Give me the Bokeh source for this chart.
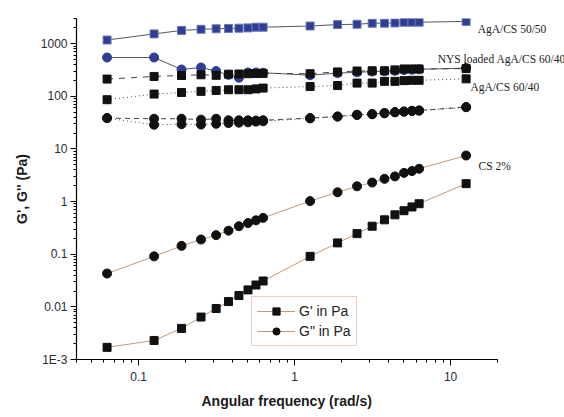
from bokeh.plotting import figure
from bokeh.models import FixedTicker, Label, Legend, LegendItem, Range1d, Title
from bokeh.embed import file_html
from bokeh.resources import INLINE

# ---------------- data ----------------
freq = [0.0628, 0.1257, 0.1885, 0.2513, 0.3142, 0.3770, 0.4398, 0.5027, 0.5655, 0.6283,
        1.257, 1.885, 2.513, 3.142, 3.770, 4.398, 5.027, 5.655, 6.283, 12.57]

# AgA/CS 50/50
g1_5050 = [1170, 1530, 1780, 1870, 1910, 1940, 1960, 1990, 2050, 2050,
           2160, 2300, 2330, 2440, 2440, 2470, 2550, 2550, 2550, 2640]
g2_5050 = [545, 545, 323, 352, 301, 255, 225, 283, 283, 280,
           251, 275, 285, 295, 300, 305, 315, 320, 325, 343]

# NYS loaded AgA/CS 60/40
g1_nys = [212, 238, 248, 256, 250, 263, 265, 268, 270, 272,
          268, 290, 302, 305, 305, 317, 330, 330, 330, 335]
g2_nys = [38.5, 37.4, 37.4, 36.0, 37.4, 35.0, 35.0, 35.0, 34.5, 35.0,
          38.5, 41.4, 44.6, 46.0, 48.0, 50.0, 51.4, 53.0, 53.7, 62.4]

# AgA/CS 60/40
g1_6040 = [86, 110, 118, 124, 129, 133, 133, 133, 138, 143,
           153, 160, 178, 178, 192, 192, 198, 201, 201, 214]
g2_6040 = [38.5, 28.8, 29.5, 29.0, 30.0, 31.0, 31.5, 32.0, 33.0, 33.5,
           38.0, 41.0, 44.0, 45.5, 47.5, 49.5, 51.0, 52.5, 53.5, 62.0]

# CS 2%
g1_cs = [0.0017, 0.0023, 0.0039, 0.0064, 0.0093, 0.0126, 0.0164, 0.021, 0.026, 0.031,
         0.091, 0.164, 0.246, 0.34, 0.45, 0.56, 0.67, 0.79, 0.91, 2.19]
g2_cs = [0.043, 0.091, 0.144, 0.19, 0.23, 0.28, 0.34, 0.39, 0.44, 0.49,
         1.02, 1.5, 1.95, 2.3, 2.7, 3.0, 3.5, 3.8, 4.2, 7.5]

y_ticks = [0.001, 0.01, 0.1, 1, 10, 100, 1000]
y_tick_labels = ["1E-3", "0.01", "0.1", "1", "10", "100", "1000"]
x_ticks = [0.1, 1, 10]
x_tick_labels = ["0.1", "1", "10"]

X_AXIS_START, X_AXIS_END = 0.04, 20

# ---------------- figure ----------------
# frame extends to the right edge so the series labels can sit beyond the axis end
p = figure(width=564, height=417, x_axis_type="log", y_axis_type="log",
           x_range=Range1d(X_AXIS_START, 53.7), y_range=Range1d(0.001, 3000),
           output_backend="svg", toolbar_location=None,
           min_border_left=76, min_border_right=0, min_border_top=18, min_border_bottom=58)
p.outline_line_color = None
p.xgrid.visible = False
p.ygrid.visible = False
p.background_fill_color = "white"
p.border_fill_color = "white"

BLUE = "#2f3e94"
TAN = "#c39a78"
DARK = "#111111"

# AgA/CS 50/50
p.line(freq, g1_5050, line_color="#555566", line_width=1)
p.scatter(freq, g1_5050, marker="square", size=8, fill_color=BLUE, line_color="#6a78b8")
p.line(freq, g2_5050, line_color="#555566", line_width=1)
blue_circ_colors = [BLUE] * (len(freq) - 1) + [DARK]
p.scatter(freq, g2_5050, marker="circle", size=9, fill_color=blue_circ_colors, line_color=blue_circ_colors)

# NYS loaded AgA/CS 60/40
p.line(freq, g1_nys, line_color="#444444", line_width=1, line_dash="6 6")
p.scatter(freq, g1_nys, marker="square", size=8, fill_color=DARK, line_color=DARK)
p.line(freq, g2_nys, line_color="#444444", line_width=1, line_dash="5 4")
p.scatter(freq, g2_nys, marker="circle", size=9, fill_color=DARK, line_color=DARK)

# AgA/CS 60/40
p.line(freq, g1_6040, line_color="#444444", line_width=1, line_dash="1 3")
p.scatter(freq, g1_6040, marker="square", size=8, fill_color=DARK, line_color=DARK)
p.line(freq, g2_6040, line_color="#444444", line_width=1, line_dash="1 3")
p.scatter(freq, g2_6040, marker="circle", size=9, fill_color=DARK, line_color=DARK)

# CS 2%
l_cs1 = p.line(freq, g1_cs, line_color=TAN, line_width=1)
s_cs1 = p.scatter(freq, g1_cs, marker="square", size=8, fill_color=DARK, line_color=DARK)
l_cs2 = p.line(freq, g2_cs, line_color=TAN, line_width=1)
s_cs2 = p.scatter(freq, g2_cs, marker="circle", size=9, fill_color=DARK, line_color=DARK)

# ---------------- axes ----------------
x_minor = [a * 10 ** e for e in (-2, -1, 0, 1) for a in range(2, 10) if a * 10 ** e <= X_AXIS_END]
y_minor = [a * 10 ** e for e in (-3, -2, -1, 0, 1, 2, 3) for a in range(2, 10)]

xa = p.xaxis[0]
xa.ticker = FixedTicker(ticks=x_ticks, minor_ticks=x_minor)
xa.major_label_overrides = dict(zip(x_ticks, x_tick_labels))
xa.bounds = (X_AXIS_START, X_AXIS_END)
ya = p.yaxis[0]
ya.ticker = FixedTicker(ticks=y_ticks, minor_ticks=y_minor)
ya.major_label_overrides = dict(zip(y_ticks, y_tick_labels))

for ax in (xa, ya):
    ax.axis_line_color = "black"
    ax.axis_line_width = 1.2
    ax.major_tick_line_color = "black"
    ax.minor_tick_line_color = "black"
    ax.major_tick_out = 6
    ax.major_tick_in = 0
    ax.minor_tick_out = 3
    ax.minor_tick_in = 0
    ax.major_label_text_font = "Liberation Sans"
    ax.major_label_text_font_size = "12px"
    ax.major_label_text_color = "#2a2a35"
    ax.axis_label_text_font = "Liberation Sans"
    ax.axis_label_text_font_size = "14px"
    ax.axis_label_text_font_style = "bold"
    ax.axis_label_text_color = "#1a1a1a"

xa.major_label_standoff = 6
ya.axis_label = "G', G'' (Pa)"
ya.major_label_standoff = 3
ya.axis_label_standoff = 8

# x axis title centred under the drawn axis (not under the wider frame)
p.add_layout(Title(text="Angular frequency (rad/s)", align="left", offset=125, standoff=15,
                   text_font="Liberation Sans", text_font_size="14px", text_font_style="bold",
                   text_color="#1a1a1a"), "below")

# ---------------- legend ----------------
legend = Legend(items=[LegendItem(label="G' in Pa", renderers=[l_cs1, s_cs1]),
                       LegendItem(label='G" in Pa', renderers=[l_cs2, s_cs2])],
                location=(175, 13), orientation="vertical",
                border_line_color="#d4a07c", border_line_width=1,
                background_fill_color="white", background_fill_alpha=1,
                label_text_font="Liberation Sans", label_text_font_size="14px",
                label_text_color="#222222",
                glyph_width=38, glyph_height=18, label_standoff=4,
                padding=5, spacing=2, margin=0)
p.add_layout(legend, "center")

# ---------------- annotations ----------------
ann = [("AgA/CS 50/50", 14.9, 1857), ("NYS loaded AgA/CS 60/40", 8.26, 501),
       ("AgA/CS 60/40", 13.4, 148), ("CS 2%", 15.1, 4.72)]
for t, x, y in ann:
    p.add_layout(Label(x=x, y=y, text=t, text_font="Liberation Serif", text_font_size="11.5px",
                       text_color="#222222", text_baseline="middle", text_align="left"))

open("out.html", "w").write(file_html(p, INLINE))
